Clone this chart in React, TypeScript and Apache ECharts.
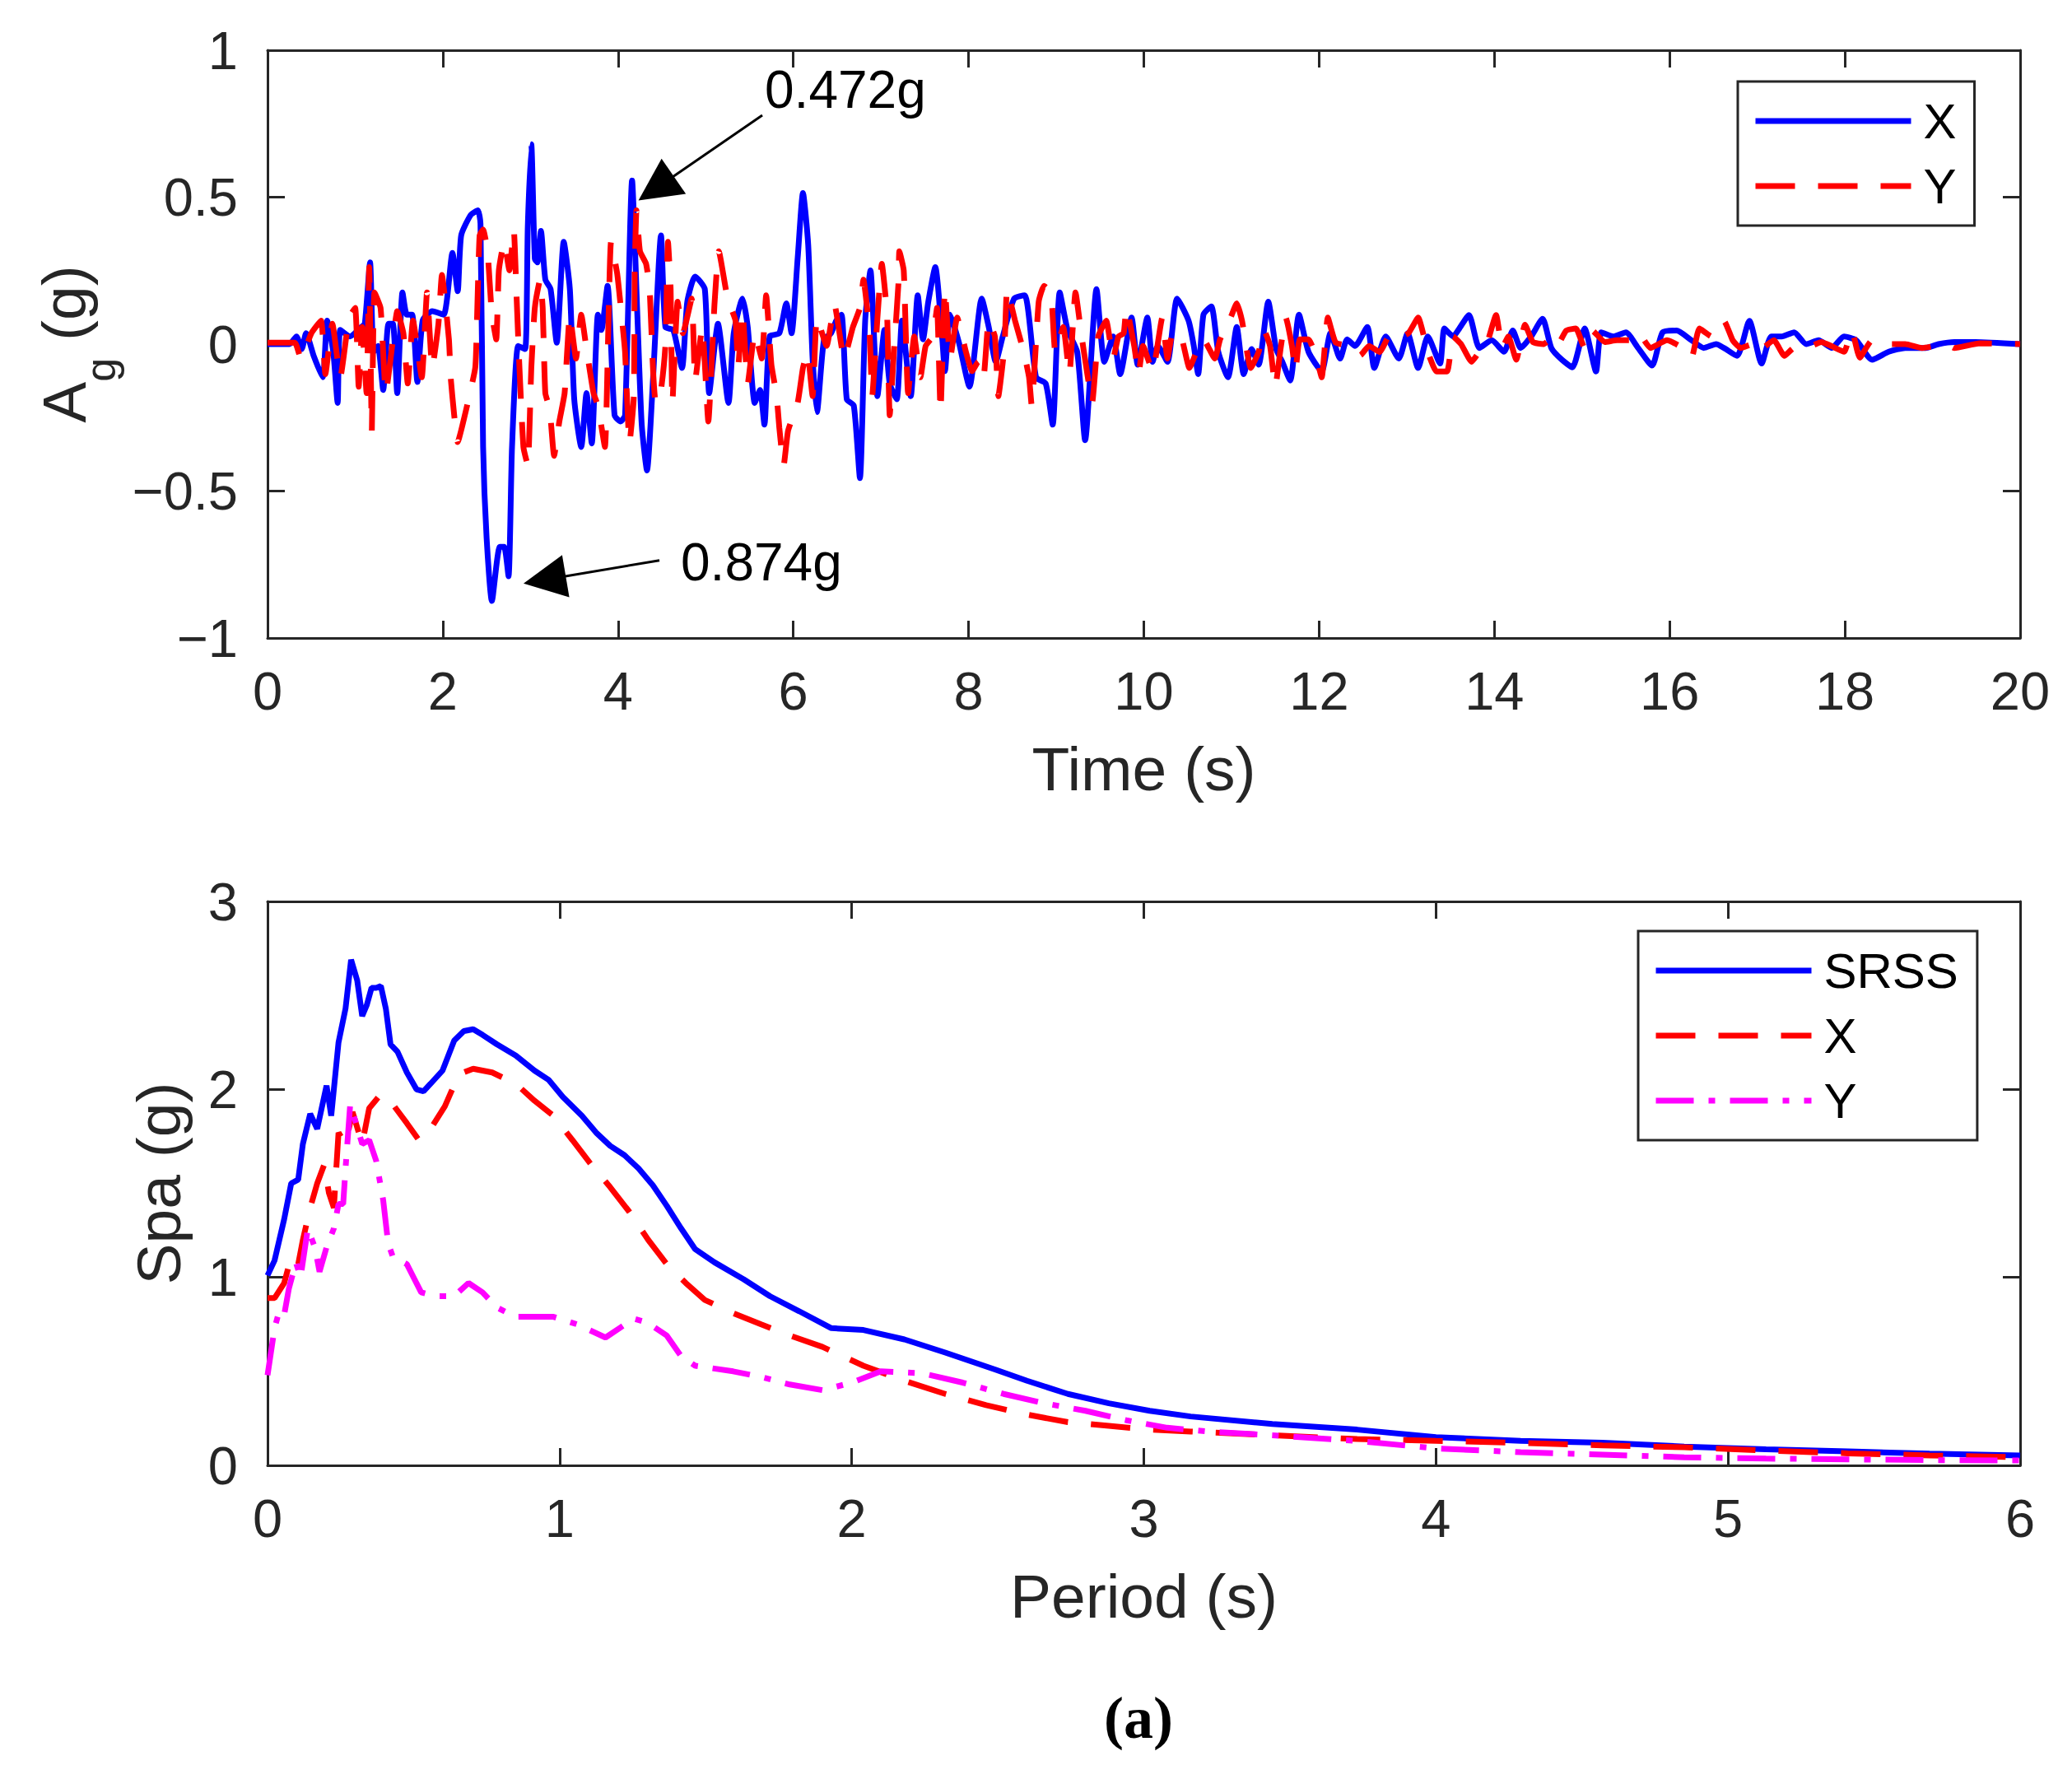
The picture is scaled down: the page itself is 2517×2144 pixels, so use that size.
import React, { useEffect, useRef } from "react";
import * as echarts from "echarts";

const FONT = '"Liberation Sans", Arial, Helvetica, sans-serif';
const INK = "#262626";

// ---------- axis ranges [min, max, step] ----------
const TIME_RANGE = [0, 20, 2];
const ACC_RANGE = [-1, 1, 0.5];
const PERIOD_RANGE = [0, 6, 1];
const SPA_RANGE = [0, 3, 1];

// ---------- texts ----------
const TOP_LEGEND = ["X", "Y"];
const BOTTOM_LEGEND = ["SRSS", "X ", "Y "];
const ANNOTATIONS = ["0.472g", "0.874g"];
const PANEL_TAG = "(a)";

// ---------- ground acceleration, X direction [time s, A g] ----------
const ACC_X: number[][] = [
  [0, 0], [0.25, 0], [0.33, 0.026], [0.39, -0.017], [0.44, 0.037], [0.53, -0.043], [0.63, -0.113], [0.68, 0.08],
  [0.75, -0.027], [0.8, -0.2], [0.83, 0.048], [0.94, 0.026], [1.07, 0.058], [1.11, 0.069], [1.17, 0.278], [1.21, -0.027],
  [1.26, -0.006], [1.32, -0.156], [1.38, 0.069], [1.43, 0.069], [1.48, -0.167], [1.54, 0.176], [1.59, 0.1], [1.65, 0.1],
  [1.71, -0.129], [1.77, 0.08], [1.88, 0.112], [2.01, 0.1], [2.11, 0.31], [2.17, 0.18], [2.21, 0.37], [2.32, 0.44],
  [2.4, 0.455], [2.43, 0.41], [2.46, -0.35], [2.5, -0.66], [2.56, -0.874], [2.65, -0.69], [2.7, -0.69], [2.75, -0.79],
  [2.79, -0.35], [2.86, -0.006], [2.94, -0.017], [2.97, 0.4], [3.01, 0.68], [3.05, 0.29], [3.08, 0.278], [3.12, 0.385],
  [3.17, 0.22], [3.23, 0.187], [3.3, 0.005], [3.38, 0.348], [3.45, 0.187], [3.5, -0.188], [3.58, -0.35], [3.64, -0.167],
  [3.7, -0.338], [3.77, 0.1], [3.81, 0.048], [3.88, 0.198], [3.96, -0.242], [4.03, -0.263], [4.08, -0.242], [4.16, 0.557],
  [4.22, 0.1], [4.27, -0.274], [4.33, -0.43], [4.4, -0.113], [4.49, 0.37], [4.54, 0.058], [4.63, 0.048], [4.73, -0.081],
  [4.79, 0.144], [4.88, 0.23], [4.99, 0.187], [5.04, -0.167], [5.14, 0.069], [5.26, -0.2], [5.32, 0.037], [5.42, 0.155],
  [5.48, 0.058], [5.56, -0.2], [5.62, -0.156], [5.67, -0.274], [5.73, 0.026], [5.84, 0.037], [5.92, 0.139], [5.98, 0.037],
  [6.05, 0.294], [6.11, 0.514], [6.17, 0.337], [6.22, -0.049], [6.27, -0.231], [6.35, 0.016], [6.43, 0.037], [6.49, 0.08],
  [6.55, 0.1], [6.61, -0.188], [6.69, -0.209], [6.76, -0.456], [6.82, 0.08], [6.88, 0.251], [6.96, -0.177], [7.04, 0.048],
  [7.1, -0.134], [7.18, -0.188], [7.24, 0.08], [7.34, -0.177], [7.42, 0.166], [7.48, 0.016], [7.54, 0.144], [7.62, 0.262],
  [7.7, 0.016], [7.73, -0.092], [7.79, 0.1], [7.89, 0.005], [8.01, -0.145], [8.15, 0.155], [8.23, 0.058], [8.31, -0.06],
  [8.39, 0.026], [8.52, 0.155], [8.64, 0.166], [8.77, -0.113], [8.88, -0.134], [8.96, -0.274], [9.04, 0.176], [9.13, 0.048],
  [9.24, -0.027], [9.33, -0.327], [9.46, 0.187], [9.55, -0.06], [9.65, 0.026], [9.73, -0.102], [9.86, 0.09], [9.93, -0.07],
  [10.04, 0.09], [10.1, -0.06], [10.16, -0.006], [10.27, -0.06], [10.38, 0.155], [10.51, 0.08], [10.57, -0.006], [10.62, -0.102],
  [10.68, 0.1], [10.77, 0.128], [10.85, -0.027], [10.96, -0.113], [11.06, 0.058], [11.14, -0.102], [11.23, -0.017], [11.31, -0.07],
  [11.42, 0.144], [11.51, -0.017], [11.58, -0.06], [11.67, -0.124], [11.77, 0.1], [11.88, -0.027], [12.03, -0.092], [12.13, 0.037],
  [12.24, -0.049], [12.32, 0.016], [12.41, -0.006], [12.55, 0.058], [12.63, -0.081], [12.76, 0.026], [12.91, -0.049], [13.01, 0.037],
  [13.13, -0.081], [13.24, 0.026], [13.38, -0.066], [13.43, 0.053], [13.53, 0.026], [13.6, 0.053], [13.71, 0.099], [13.83, -0.013],
  [13.97, 0.013], [14.11, -0.026], [14.21, 0.046], [14.3, -0.013], [14.42, 0.026], [14.55, 0.086], [14.65, -0.013], [14.77, -0.053],
  [14.89, -0.079], [15.03, 0.053], [15.16, -0.093], [15.22, 0.04], [15.36, 0.026], [15.5, 0.04], [15.64, -0.013], [15.8, -0.073],
  [15.92, 0.04], [16.08, 0.046], [16.25, 0.013], [16.39, -0.013], [16.53, 0], [16.62, -0.013], [16.77, -0.04], [16.91, 0.079],
  [17.05, -0.066], [17.16, 0.026], [17.28, 0.026], [17.42, 0.04], [17.56, 0], [17.7, 0.013], [17.85, -0.013], [17.99, 0.026],
  [18.13, 0.013], [18.31, -0.053], [18.5, -0.026], [18.69, -0.013], [18.92, -0.013], [19.07, 0], [19.25, 0.007], [19.49, 0.007],
  [20, 0],
];

// ---------- ground acceleration, Y direction [time s, A g] ----------
const ACC_Y: number[][] = [
  [0, 0.005], [0.31, 0.005], [0.38, -0.049], [0.5, 0.037], [0.61, 0.08], [0.66, -0.102], [0.74, 0.069], [0.83, -0.113],
  [0.93, 0.09], [1.0, 0.123], [1.04, -0.145], [1.08, 0.058], [1.13, -0.167], [1.16, 0.262], [1.19, -0.295], [1.22, 0.176],
  [1.29, 0.123], [1.35, -0.167], [1.44, 0.037], [1.48, 0.112], [1.55, 0.037], [1.6, -0.134], [1.66, 0.08], [1.76, -0.113],
  [1.82, 0.176], [1.88, -0.081], [1.95, 0.069], [1.99, 0.235], [2.07, 0.016], [2.09, -0.113], [2.13, -0.242], [2.17, -0.333],
  [2.26, -0.231], [2.37, -0.081], [2.39, 0.08], [2.42, 0.37], [2.46, 0.39], [2.51, 0.316], [2.54, 0.187], [2.56, 0.1],
  [2.61, 0.016], [2.64, 0.251], [2.7, 0.348], [2.76, 0.251], [2.81, 0.39], [2.84, 0.176], [2.87, -0.049], [2.92, -0.35],
  [2.97, -0.413], [3.01, -0.081], [3.05, 0.123], [3.11, 0.22], [3.14, 0.123], [3.17, -0.167], [3.22, -0.22], [3.27, -0.38],
  [3.33, -0.263], [3.39, -0.167], [3.45, 0.1], [3.52, -0.049], [3.58, 0.1], [3.64, -0.017], [3.72, -0.167], [3.77, -0.209],
  [3.85, -0.35], [3.89, 0.069], [3.92, 0.348], [3.99, 0.24], [4.05, 0.069], [4.08, -0.027], [4.13, -0.338], [4.18, -0.177],
  [4.19, 0.24], [4.21, 0.455], [4.25, 0.316], [4.32, 0.273], [4.36, 0.187], [4.4, -0.092], [4.43, -0.2], [4.49, -0.156],
  [4.54, -0.006], [4.57, 0.348], [4.6, 0.187], [4.62, -0.2], [4.68, 0.144], [4.74, 0.037], [4.84, 0.155], [4.88, -0.124],
  [4.96, 0.058], [5.03, -0.263], [5.1, 0.134], [5.15, 0.316], [5.25, 0.155], [5.34, 0.08], [5.37, -0.081], [5.42, 0.112],
  [5.48, -0.134], [5.56, 0.037], [5.64, -0.049], [5.69, 0.166], [5.75, -0.07], [5.81, -0.177], [5.84, -0.284], [5.89, -0.413],
  [5.94, -0.295], [6.05, -0.199], [6.11, -0.081], [6.16, -0.027], [6.22, -0.177], [6.27, 0.09], [6.38, -0.006], [6.47, 0.134],
  [6.58, -0.049], [6.68, 0.058], [6.76, 0.123], [6.8, 0.219], [6.87, 0.037], [6.9, -0.177], [6.96, 0.09], [7.01, 0.273],
  [7.07, 0.1], [7.1, -0.242], [7.15, -0.017], [7.2, 0.208], [7.21, 0.316], [7.26, 0.251], [7.31, -0.167], [7.38, 0.026],
  [7.45, -0.113], [7.51, -0.006], [7.59, 0.026], [7.64, 0.123], [7.68, -0.231], [7.73, 0.187], [7.79, -0.049], [7.87, 0.09],
  [7.97, -0.027], [8.04, -0.092], [8.11, -0.06], [8.17, -0.113], [8.23, 0.08], [8.3, 0.026], [8.34, -0.177], [8.41, -0.006],
  [8.44, 0.187], [8.53, 0.08], [8.63, -0.027], [8.69, -0.113], [8.72, -0.209], [8.8, 0.144], [8.86, 0.198], [8.94, 0.176],
  [8.99, -0.027], [9.08, 0.058], [9.15, -0.102], [9.22, 0.176], [9.29, 0.026], [9.35, -0.092], [9.41, -0.199], [9.48, 0.026],
  [9.57, 0.08], [9.65, -0.049], [9.71, 0.026], [9.77, 0.037], [9.8, 0.123], [9.89, -0.006], [9.94, -0.102], [9.99, -0.006],
  [10.1, -0.092], [10.21, 0.09], [10.27, -0.049], [10.33, 0.037], [10.41, 0.037], [10.52, -0.081], [10.6, -0.027], [10.68, 0.016],
  [10.81, -0.049], [10.87, 0.016], [10.99, 0.09], [11.06, 0.139], [11.12, 0.08], [11.22, -0.081], [11.31, -0.027], [11.37, 0.048],
  [11.44, -0.006], [11.5, -0.145], [11.56, -0.017], [11.62, 0.09], [11.69, -0.006], [11.73, -0.092], [11.78, 0.016], [11.88, 0.016],
  [11.97, -0.049], [12.03, -0.113], [12.1, 0.09], [12.19, 0.005], [12.35, -0.006], [12.47, -0.038], [12.57, -0.006], [12.69, -0.027],
  [12.82, 0.037], [12.94, 0.026], [13.02, 0.037], [13.13, 0.09], [13.24, -0.026], [13.34, -0.093], [13.46, -0.093], [13.53, 0.026],
  [13.62, 0], [13.74, -0.06], [13.83, -0.026], [13.9, -0.013], [14.02, 0.099], [14.09, -0.013], [14.16, 0.026], [14.25, -0.053],
  [14.35, 0.066], [14.44, 0.007], [14.56, 0], [14.63, 0.013], [14.7, -0.013], [14.82, 0.046], [14.93, 0.053], [15.03, -0.013],
  [15.12, 0.046], [15.26, 0.007], [15.4, 0.013], [15.54, 0.013], [15.64, 0.04], [15.78, -0.013], [15.97, 0.013], [16.15, -0.013],
  [16.25, -0.046], [16.34, 0.053], [16.48, 0.026], [16.62, 0.079], [16.72, 0.013], [16.81, -0.013], [16.95, 0], [17.0, -0.026],
  [17.19, 0.013], [17.31, -0.04], [17.42, -0.013], [17.56, -0.013], [17.73, 0.007], [17.85, -0.007], [17.99, -0.026], [18.08, 0.046],
  [18.17, -0.046], [18.31, 0.013], [18.5, 0], [18.69, 0], [18.88, -0.013], [19.16, 0], [19.25, -0.013], [19.54, 0.003],
  [20, 0],
];

// ---------- response spectra [period s, Spa g] ----------
const SPA_SRSS: number[][] = [
  [0, 1.01], [0.024, 1.09], [0.057, 1.31], [0.081, 1.5], [0.105, 1.52], [0.121, 1.71], [0.146, 1.87], [0.17, 1.79],
  [0.202, 2.02], [0.218, 1.86], [0.243, 2.25], [0.267, 2.43], [0.286, 2.69], [0.307, 2.58], [0.324, 2.39], [0.34, 2.45],
  [0.356, 2.54], [0.372, 2.54], [0.388, 2.55], [0.405, 2.43], [0.421, 2.24], [0.445, 2.2], [0.477, 2.09], [0.51, 2.0],
  [0.534, 1.99], [0.558, 2.03], [0.599, 2.1], [0.639, 2.26], [0.672, 2.31], [0.704, 2.32], [0.736, 2.29], [0.785, 2.24],
  [0.85, 2.18], [0.914, 2.1], [0.963, 2.05], [1.011, 1.96], [1.076, 1.86], [1.125, 1.77], [1.173, 1.7], [1.222, 1.65],
  [1.27, 1.58], [1.319, 1.49], [1.367, 1.38], [1.416, 1.26], [1.464, 1.15], [1.53, 1.08], [1.63, 0.99], [1.72, 0.9],
  [1.82, 0.82], [1.93, 0.73], [2.04, 0.72], [2.18, 0.67], [2.32, 0.6], [2.49, 0.51], [2.6, 0.45], [2.74, 0.38],
  [2.88, 0.33], [3.02, 0.29], [3.16, 0.26], [3.44, 0.22], [3.73, 0.19], [4.0, 0.15], [4.29, 0.13], [4.57, 0.12],
  [4.85, 0.1], [5.13, 0.085], [5.41, 0.074], [5.69, 0.062], [6.0, 0.053],
];
const SPA_X: number[][] = [
  [0, 0.89], [0.024, 0.89], [0.057, 0.97], [0.081, 1.11], [0.105, 1.07], [0.121, 1.2], [0.146, 1.37], [0.17, 1.5],
  [0.194, 1.6], [0.21, 1.45], [0.227, 1.37], [0.243, 1.77], [0.267, 1.71], [0.291, 1.88], [0.324, 1.71], [0.348, 1.9],
  [0.38, 1.96], [0.405, 1.97], [0.429, 1.92], [0.477, 1.82], [0.518, 1.73], [0.558, 1.79], [0.607, 1.91], [0.655, 2.08],
  [0.704, 2.11], [0.769, 2.09], [0.85, 2.03], [0.914, 1.94], [0.979, 1.86], [1.044, 1.73], [1.108, 1.6], [1.173, 1.48],
  [1.238, 1.35], [1.303, 1.2], [1.367, 1.07], [1.432, 0.97], [1.497, 0.88], [1.594, 0.81], [1.69, 0.75], [1.79, 0.69],
  [1.9, 0.63], [2.04, 0.53], [2.18, 0.45], [2.32, 0.38], [2.46, 0.32], [2.6, 0.27], [2.74, 0.23], [2.88, 0.21],
  [3.02, 0.19], [3.16, 0.18], [3.44, 0.16], [3.73, 0.14], [4.0, 0.13], [4.29, 0.12], [4.57, 0.106], [4.85, 0.096],
  [5.13, 0.079], [5.41, 0.064], [5.69, 0.053], [6.0, 0.043],
];
const SPA_Y: number[][] = [
  [0, 0.48], [0.024, 0.73], [0.04, 0.82], [0.057, 0.8], [0.073, 0.94], [0.097, 1.08], [0.113, 1.0], [0.138, 1.26],
  [0.162, 1.16], [0.178, 1.03], [0.202, 1.16], [0.227, 1.26], [0.243, 1.39], [0.259, 1.39], [0.267, 1.58], [0.283, 1.92],
  [0.299, 1.84], [0.324, 1.71], [0.348, 1.73], [0.372, 1.62], [0.396, 1.41], [0.413, 1.18], [0.429, 1.11], [0.477, 1.07],
  [0.526, 0.92], [0.574, 0.9], [0.639, 0.9], [0.688, 0.97], [0.736, 0.92], [0.785, 0.84], [0.85, 0.79], [0.914, 0.79],
  [0.979, 0.79], [1.06, 0.75], [1.157, 0.68], [1.205, 0.73], [1.254, 0.78], [1.3, 0.76], [1.367, 0.69], [1.416, 0.58],
  [1.464, 0.53], [1.594, 0.5], [1.691, 0.47], [1.788, 0.43], [1.9, 0.4], [2.0, 0.44], [2.1, 0.5], [2.24, 0.49],
  [2.38, 0.44], [2.52, 0.38], [2.66, 0.33], [2.8, 0.29], [2.94, 0.24], [3.08, 0.2], [3.22, 0.18], [3.44, 0.16],
  [3.73, 0.13], [4.0, 0.09], [4.29, 0.07], [4.57, 0.057], [4.85, 0.043], [5.13, 0.036], [5.41, 0.032], [5.69, 0.028],
  [6.0, 0.026],
];

// ---------- annotation arrows [tail, head] in data coordinates ----------
const ARROW_PEAK_POS = [[5.646, 0.779], [4.434, 0.53]];
const ARROW_PEAK_NEG = [[4.472, -0.736], [3.162, -0.802]];

const minus = (v: number) => (v < 0 ? "\u2212" + String(Math.abs(v)) : String(v));

function makeXAxis(gridIndex: number, range: number[], position: "top" | "bottom", name?: string) {
  const main = position === "bottom";
  return {
    type: "value",
    gridIndex,
    position,
    min: range[0],
    max: range[1],
    interval: range[2],
    name: main ? name : undefined,
    nameLocation: "middle",
    nameGap: 121,
    nameTextStyle: { fontSize: 75, color: INK, fontFamily: FONT },
    axisLine: { show: true, onZero: false, lineStyle: { color: INK, width: 3 } },
    axisTick: { show: true, inside: true, length: 21, lineStyle: { color: INK, width: 3 } },
    axisLabel: { show: main, margin: 32, fontSize: 65, color: INK, fontFamily: FONT },
    splitLine: { show: false },
  };
}

function makeYAxis(gridIndex: number, range: number[], position: "left" | "right", extra: any = {}) {
  const main = position === "left";
  return {
    type: "value",
    gridIndex,
    position,
    min: range[0],
    max: range[1],
    interval: range[2],
    nameLocation: "middle",
    axisLine: { show: true, onZero: false, lineStyle: { color: INK, width: 3 } },
    axisTick: { show: true, inside: true, length: 21, lineStyle: { color: INK, width: 3 } },
    axisLabel: { show: main, margin: 36, fontSize: 65, color: INK, fontFamily: FONT, formatter: minus },
    splitLine: { show: false },
    ...(main ? extra : {}),
  };
}

function lineSeries(name: string, data: number[][], axisIndex: number, color: string, dash: any, extra: any = {}) {
  return {
    name,
    type: "line",
    xAxisIndex: axisIndex,
    yAxisIndex: axisIndex,
    data,
    symbol: "none",
    showSymbol: false,
    silent: true,
    lineStyle: { color, width: 7, type: dash },
    itemStyle: { color },
    ...extra,
  };
}

function makeLegend(data: string[], left: number, top: number, padRight: number) {
  return {
    data,
    orient: "vertical",
    left,
    top,
    itemWidth: 189,
    itemHeight: 20,
    itemGap: 19,
    padding: [18, padRight, 18, 18],
    borderColor: INK,
    borderWidth: 3,
    backgroundColor: "#ffffff",
    selectedMode: false,
    formatter: (n: string) => n.trim(),
    lineStyle: { width: 7 },
    itemStyle: { opacity: 0, borderWidth: 0 },
    textStyle: { fontSize: 60, color: "#000000", fontFamily: FONT, padding: [0, 0, 0, 10] },
  };
}

export default function App() {
  const ref = useRef<HTMLDivElement>(null);

  useEffect(() => {
    if (!ref.current) return;
    const chart = echarts.init(ref.current, undefined, { renderer: "svg" });

    const arrowLine = (pair: number[][]) => [{ coord: pair[0] }, { coord: pair[1] }];

    const option: any = {
      animation: false,
      backgroundColor: "#ffffff",
      textStyle: { fontFamily: FONT },
      grid: [
        { left: 325, top: 61, width: 2129, height: 714, containLabel: false },
        { left: 325, top: 1095, width: 2129, height: 685, containLabel: false },
      ],
      xAxis: [
        makeXAxis(0, TIME_RANGE, "bottom", "Time (s)"),
        makeXAxis(0, TIME_RANGE, "top"),
        makeXAxis(1, PERIOD_RANGE, "bottom", "Period (s)"),
        makeXAxis(1, PERIOD_RANGE, "top"),
      ],
      yAxis: [
        makeYAxis(0, ACC_RANGE, "left", {
          name: "{a|A}{s|g}{a| (g)}",
          nameGap: 210,
          nameTextStyle: {
            fontSize: 75,
            color: INK,
            fontFamily: FONT,
            rich: {
              a: { fontSize: 75, lineHeight: 75, color: INK, fontFamily: FONT, verticalAlign: "middle" },
              s: { fontSize: 52, lineHeight: 52, color: INK, fontFamily: FONT, verticalAlign: "top", padding: [56, 0, 0, 0] },
            },
          },
        }),
        makeYAxis(0, ACC_RANGE, "right"),
        makeYAxis(1, SPA_RANGE, "left", {
          name: "Spa (g)",
          nameGap: 95,
          nameTextStyle: { fontSize: 75, color: INK, fontFamily: FONT },
        }),
        makeYAxis(1, SPA_RANGE, "right"),
      ],
      legend: [
        makeLegend(TOP_LEGEND, 2111, 99, 22),
        makeLegend(BOTTOM_LEGEND, 1990, 1131, 23),
      ],
      series: [
        lineSeries(TOP_LEGEND[0], ACC_X, 0, "#0000ff", "solid", {
          smooth: 0.2,
          markLine: {
            silent: true,
            animation: false,
            symbol: ["none", "triangle"],
            symbolSize: 52,
            label: { show: false },
            lineStyle: { color: "#000000", width: 3, type: "solid" },
            itemStyle: { color: "#000000" },
            emphasis: { disabled: true },
            data: [arrowLine(ARROW_PEAK_POS), arrowLine(ARROW_PEAK_NEG)],
          },
        }),
        lineSeries(TOP_LEGEND[1], ACC_Y, 0, "#ff0000", [48, 28], { smooth: 0.15 }),
        lineSeries(BOTTOM_LEGEND[0], SPA_SRSS, 2, "#0000ff", "solid"),
        lineSeries(BOTTOM_LEGEND[1], SPA_X, 2, "#ff0000", [48, 28]),
        lineSeries(BOTTOM_LEGEND[2], SPA_Y, 2, "#ff00ff", [46, 18, 8, 18]),
      ],
      graphic: [
        {
          type: "text",
          x: 929,
          y: 109,
          silent: true,
          style: { text: ANNOTATIONS[0], fontSize: 64, fontFamily: FONT, fill: "#000000", align: "left", verticalAlign: "middle" },
        },
        {
          type: "text",
          x: 827,
          y: 683,
          silent: true,
          style: { text: ANNOTATIONS[1], fontSize: 64, fontFamily: FONT, fill: "#000000", align: "left", verticalAlign: "middle" },
        },
        {
          type: "text",
          x: 1383,
          y: 2087,
          silent: true,
          style: {
            text: PANEL_TAG,
            fontSize: 72,
            fontWeight: "bold",
            fontFamily: '"Liberation Serif", "Times New Roman", serif',
            fill: "#000000",
            align: "center",
            verticalAlign: "middle",
          },
        },
      ],
    };

    chart.setOption(option);
    return () => chart.dispose();
  }, []);

  return (
    <div
      ref={ref}
      style={{ position: "absolute", left: 0, top: 0, width: 2517, height: 2144, background: "#ffffff" }}
    />
  );
}
